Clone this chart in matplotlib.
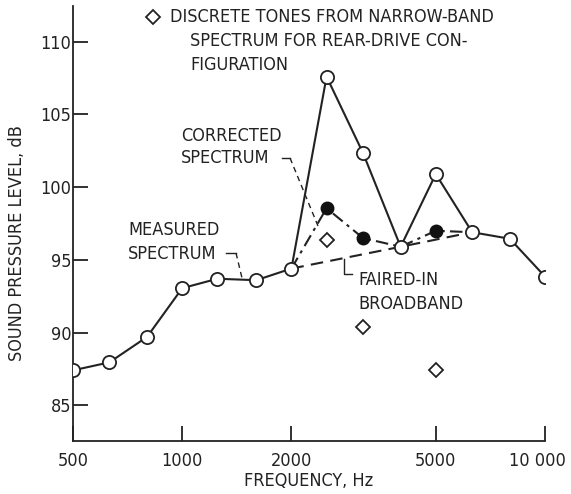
import matplotlib.pyplot as plt
import matplotlib.font_manager as fm
from matplotlib.transforms import ScaledTranslation

# Data
freq = [500, 630, 800, 1000, 1250, 1600, 2000, 2500, 3150, 4000, 5000, 6300, 8000, 10000]
measured = [87.4, 87.95, 89.7, 93.05, 93.7, 93.6, 94.4, 107.6, 102.35, 95.9, 100.9, 96.9, 96.45, 93.85]

corr_freq = [2000, 2500, 3150, 4000, 5000, 6300]
corrected = [94.4, 98.55, 96.5, 95.9, 97.0, 96.9]
corr_filled_freq = [2500, 3150, 5000]
corr_filled = [98.55, 96.5, 97.0]

faired_freq = [2000, 4000, 6300]
faired = [94.4, 95.9, 96.9]

tone_freq = [2500, 3150, 5000]
tones = [96.35, 90.35, 87.4]

xticks = [500, 1000, 2000, 5000, 10000]
xticklabels = ['500', '1000', '2000', '5000', '10 000']
yticks = [85, 90, 95, 100, 105, 110]

plt.rcParams['font.family'] = ['DejaVu Sans']
plt.rcParams['font.stretch'] = 'condensed'
cond = 'Condensed' in fm.findfont(fm.FontProperties(family='DejaVu Sans', stretch='condensed'))
FS = 13 if cond else 12
plt.rcParams['font.size'] = FS

W, H = 571, 494
fig = plt.figure(figsize=(W / 100, H / 100), dpi=100)
ax = fig.add_axes([73 / W, 1 - 441 / H, (545 - 73) / W, (441 - 6) / H])

def px(x, y):
    return x / W, 1 - y / H

ax.set_xscale('log')
ax.set_xlim(500, 10000)
ax.set_ylim(82.54, 112.46)

ax.plot(freq, measured, color='#222', lw=1.5, marker='o', ms=9.5,
        mfc='white', mec='#222', mew=1.3, zorder=4)
ax.plot(corr_freq, corrected, color='#222', lw=1.5, ls=(0, (6, 2.5, 1.5, 2.5)), zorder=3)
ax.plot(corr_filled_freq, corr_filled, ls='none', marker='o', ms=9,
        mfc='#111', mec='#111', zorder=5)
ax.plot(faired_freq, faired, color='#222', lw=1.5, ls=(0, (6, 3.5)), zorder=2)
ax.plot(tone_freq, tones, ls='none', marker='D', ms=7, mfc='white',
        mec='#222', mew=1.3, zorder=5)

for s in ['top', 'right']:
    ax.spines[s].set_visible(False)
for s in ['left', 'bottom']:
    ax.spines[s].set_linewidth(1.3)
    ax.spines[s].set_color('#222')

ax.set_xticks(xticks)
ax.set_xticklabels(xticklabels)
ax.xaxis.set_minor_locator(plt.NullLocator())
ax.set_yticks(yticks)
ax.tick_params(direction='in', length=11, width=1.3, color='#222',
               labelsize=FS, labelcolor='#222')
ax.tick_params(axis='y', pad=1)
ax.tick_params(axis='x', pad=8)
# last label sits a bit left of its tick in the reference
lab = ax.xaxis.get_major_ticks()[-1].label1
lab.set_transform(lab.get_transform() + ScaledTranslation(-8 / 100, 0, fig.dpi_scale_trans))

ax.set_xlabel('FREQUENCY, Hz', fontsize=FS, color='#222')
ax.xaxis.set_label_coords(0.5, -0.072)
ax.set_ylabel('SOUND PRESSURE LEVEL, dB', fontsize=FS, color='#222')
ax.yaxis.set_label_coords(-0.1, 0.455)

# legend-like note
fig.add_artist(plt.Line2D([153 / W], [1 - 17 / H], marker='D', ms=7,
                          mfc='white', mec='#222', mew=1.3, ls='none'))
fig.text(*px(170, 17), 'DISCRETE TONES FROM NARROW-BAND', ha='left', va='center', color='#222')
fig.text(*px(190, 41), 'SPECTRUM FOR REAR-DRIVE CON-', ha='left', va='center', color='#222')
fig.text(*px(190, 65), 'FIGURATION', ha='left', va='center', color='#222')

fig.text(*px(181, 136), 'CORRECTED', ha='left', va='center', color='#222')
fig.text(*px(181, 158), 'SPECTRUM', ha='left', va='center', color='#222')
fig.text(*px(128, 230), 'MEASURED', ha='left', va='center', color='#222')
fig.text(*px(128, 254), 'SPECTRUM', ha='left', va='center', color='#222')
fig.text(*px(358, 280), 'FAIRED-IN', ha='left', va='center', color='#222')
fig.text(*px(358, 304), 'BROADBAND', ha='left', va='center', color='#222')

# leader lines
def leader(xs, ys, ls='-'):
    fig.add_artist(plt.Line2D([x / W for x in xs], [1 - y / H for y in ys],
                              color='#222', lw=1.0, ls=ls))

leader([282, 290], [158, 158])
leader([290, 318], [158, 226], ls=(0, (4, 3)))
leader([226, 236], [253, 253])
leader([236, 242], [253, 278], ls=(0, (4, 3)))
leader([344, 344, 352], [259, 274, 274])

fig.savefig('out.png', dpi=100)
